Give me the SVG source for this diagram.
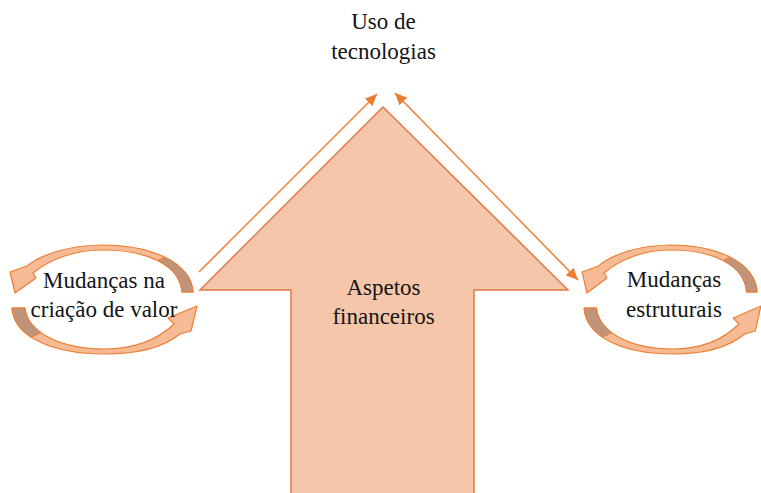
<svg xmlns="http://www.w3.org/2000/svg" width="761" height="493" viewBox="0 0 761 493">
  <style>
    .band { fill: #f6bb95; stroke: #ed7d31; stroke-width: 1.2; stroke-linejoin: round; }
    .tail { fill: #c09479; stroke: #ed7d31; stroke-width: 1; stroke-linejoin: round; }
    .conn { stroke: #ed7d31; stroke-width: 1.5; fill: none; }
    .bigarrow { fill: #f5c6aa; stroke: #df7a42; stroke-width: 1.5; stroke-linejoin: miter; }
  </style>
  <defs>
    <marker id="ah" markerUnits="userSpaceOnUse" markerWidth="13" markerHeight="11" refX="12" refY="5.5" orient="auto-start-reverse" viewBox="0 0 13 11">
      <path d="M0,0 L12,5.5 L0,11 Z" fill="#ed7d31"/>
    </marker>
    <g id="cycle">
      <path class="band" d="M193,292 C191,262 150,245 103,245 C70,245 42,254 27,266 L10,272 L15,293 L36,278 L33,273 C50,259 75,250 103,250 C145,250 180,264 182,292 Z"/>
      <path class="tail" d="M193,292 C192,277 181.25,265.25 164.9,257.25 L157.5,260.5 C171.75,267.5 181,278.5 182,292 Z"/>
      <path class="band" d="M12,308 C14,338 55,354 105,354 C140,354 165,346 180,334 L191,331 L197,306 L168,318 L174,324 C155,342 132,349 105,349 C60,349 27,332 25,308 Z"/>
      <path class="tail" d="M12,308 C12.8,320 19.84,329.76 31.2,337.2 L41.06,332.5 C31.56,325.6 25.8,317.6 25,308 Z"/>
    </g>
  </defs>

  <g font-family="Liberation Serif, DejaVu Serif, serif" font-size="23" fill="#141414" text-anchor="middle">
    <g id="node-financeiros">
      <polygon class="bigarrow" points="383,107 568,290 474,290 474,495 291,495 291,290 200,290"/>
      <text x="383.5" y="295">Aspetos</text>
      <text x="383.5" y="324">financeiros</text>
    </g>

    <g id="node-tecnologias">
      <text x="383.5" y="29">Uso de</text>
      <text x="383.5" y="59">tecnologias</text>
    </g>

    <g id="node-valor">
      <use href="#cycle"/>
      <text x="104" y="288">Mudanças na</text>
      <text x="104" y="317">criação de valor</text>
    </g>

    <g id="node-estruturais">
      <use href="#cycle" transform="matrix(0.956 0 0 1 572.6 0)"/>
      <text x="674" y="287">Mudanças</text>
      <text x="674" y="317">estruturais</text>
    </g>
  </g>

  <g id="connectors">
    <line class="conn" x1="199" y1="272" x2="377" y2="94" marker-end="url(#ah)"/>
    <line class="conn" x1="395" y1="93" x2="578" y2="280" marker-start="url(#ah)" marker-end="url(#ah)"/>
  </g>
</svg>
